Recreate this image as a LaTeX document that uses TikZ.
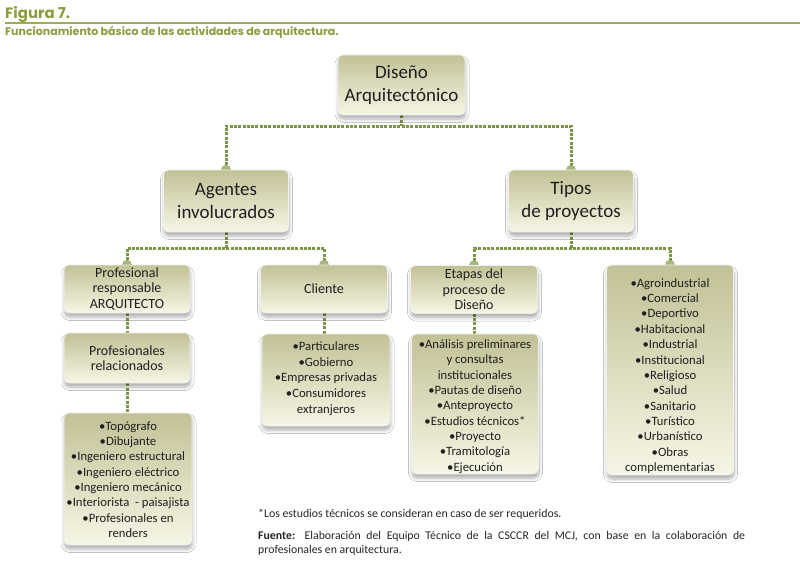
\documentclass[tikz,border=0pt]{standalone}
\usepackage{fontspec}
\setmainfont{Carlito}
\newfontfamily\headfont{Poppins}
\usetikzlibrary{shadows,shadows.blur,backgrounds}
\definecolor{boxtop}{HTML}{C2C196}
\definecolor{boxbot}{HTML}{F6F6E6}
\definecolor{conn}{HTML}{7C9646}
\definecolor{knob}{HTML}{A9B97C}
\definecolor{titlegreen}{HTML}{8E9B3E}
\begin{document}
\begin{tikzpicture}[x=1pt,y=-1pt,
  box/.style={rounded corners=5pt, draw=white!88!gray, line width=0.6pt,
    top color=boxtop, bottom color=boxbot,
    blur shadow={shadow blur steps=6, shadow xshift=0.5pt, shadow yshift=-4pt, shadow opacity=32, shadow blur radius=3.5pt},
    align=center, inner sep=2pt, text=black!88},
  txt/.style={align=center, inner sep=0pt, text=black!88},
  big/.style={font=\fontsize{19}{22.5}\selectfont},
  mid/.style={font=\fontsize{14}{15.5}\selectfont},
  lst/.style={font=\fontsize{12.7}{15.35}\selectfont},
  link/.style={draw=conn, line width=3pt, dash pattern=on 3pt off 1.3pt},
  knobst/.style={fill=knob, draw=conn!80, line width=0.5pt}
]
\useasboundingbox (0,0) rectangle (800,571);

% header
\node[anchor=base west, inner sep=0, text=titlegreen, font=\headfont\fontsize{15}{18}\selectfont\bfseries] (fig) at (5,18) {Figura 7.};
\draw[titlegreen!85, line width=1.8pt] (5,23) -- (800,23);
\node[anchor=base west, inner sep=0, text=titlegreen, font=\headfont\fontsize{11}{13}\selectfont\bfseries] (sub) at (5,35.5) {Funcionamiento básico de las actividades de arquitectura.};

% boxes
\node[box, big, minimum width=127pt, minimum height=60pt] (dis) at (401.5,85) {Diseño\\Arquitectónico};
\node[box, big, minimum width=125pt, minimum height=62pt] (age) at (226,201) {Agentes\\involucrados};
\node[box, big, minimum width=125pt, minimum height=62pt] (tip) at (571,201) {Tipos\\de proyectos};

\node[box, mid, minimum width=126pt, minimum height=48pt] (pro) at (127,289) {Profesional\\responsable\\ARQUITECTO};
\node[box, mid, minimum width=127pt, minimum height=48pt] (cli) at (324,289) {Cliente};
\node[box, mid, minimum width=127pt, minimum height=48pt] (eta) at (474,289.5) {Etapas del\\proceso de\\Diseño};
\node[box, minimum width=127pt, minimum height=210pt] (tli) at (670,370) {};
\node[txt, lst] (tlit) at (670,376)
  {•Agroindustrial\\•Comercial\\•Deportivo\\•Habitacional\\•Industrial\\•Institucional\\•Religioso\\•Salud\\•Sanitario\\•Turístico\\•Urbanístico\\•Obras\\complementarias};

\node[box, mid, minimum width=126pt, minimum height=50pt] (rel) at (127,358) {Profesionales\\relacionados};
\node[box, minimum width=128pt, minimum height=92pt] (cll) at (326,380) {};
\node[txt, font=\fontsize{12.7}{15.75}\selectfont] (cllt) at (326,378.5) {•Particulares\\•Gobierno\\•Empresas privadas\\•Consumidores\\extranjeros};
\node[box, minimum width=127pt, minimum height=140pt] (etl) at (475,404) {};
\node[txt, lst] (etlt) at (475,406.5)
  {•Análisis preliminares\\y consultas\\institucionales\\•Pautas de diseño\\•Anteproyecto\\•Estudios técnicos*\\•Proyecto\\•Tramitología\\•Ejecución};
\node[box, minimum width=128pt, minimum height=132pt] (pli) at (128,479) {};
\node[txt, lst] (plit) at (128,479.5)
  {•Topógrafo\\•Dibujante\\•Ingeniero estructural\\•Ingeniero eléctrico\\•Ingeniero mecánico\\•Interiorista\ \ - paisajista\\•Profesionales en\\renders};

% connectors
\coordinate (j1) at (401.5,126);
\coordinate (j2) at (226,248);
\coordinate (j3) at (571,248);
\begin{scope}[on background layer]
\fill[white] (0,0) rectangle (800,571);
\draw[link] (dis.south) -- (j1);
\draw[link] (age.north) |- (j1) -| (tip.north);
\draw[link] (age.south) -- (j2);
\draw[link] (pro.north) |- (j2) -| (cli.north);
\draw[link] (tip.south) -- (j3);
\draw[link] (eta.north) |- (j3) -| (tli.north);
\draw[link] (pro.south) -- (rel.north);
\draw[link] (rel.south) -- (pli.north -| rel.south);
\draw[link] (cli.south) -- (cll.north -| cli.south);
\draw[link] (eta.south) -- (etl.north -| eta.south);
\foreach \n in {age,tip,pro,cli,eta,tli}
  \filldraw[knobst] (\n.north) circle (4.5pt);
\end{scope}

% notes
\node[anchor=base west, inner sep=0, font=\fontsize{11.8}{14}\selectfont, text=black!85] (note) at (258,517) {*Los estudios técnicos se consideran en caso de ser requeridos.};
\node[anchor=north west, inner sep=0, text width=487pt, align=justify, font=\fontsize{11.8}{14}\selectfont, text=black!85] (src) at (258,531)
  {\textbf{Fuente:} Elaboración del Equipo Técnico de la CSCCR del MCJ, con base en la colaboración de\linebreak profesionales en arquitectura.};
\end{tikzpicture}
\end{document}
